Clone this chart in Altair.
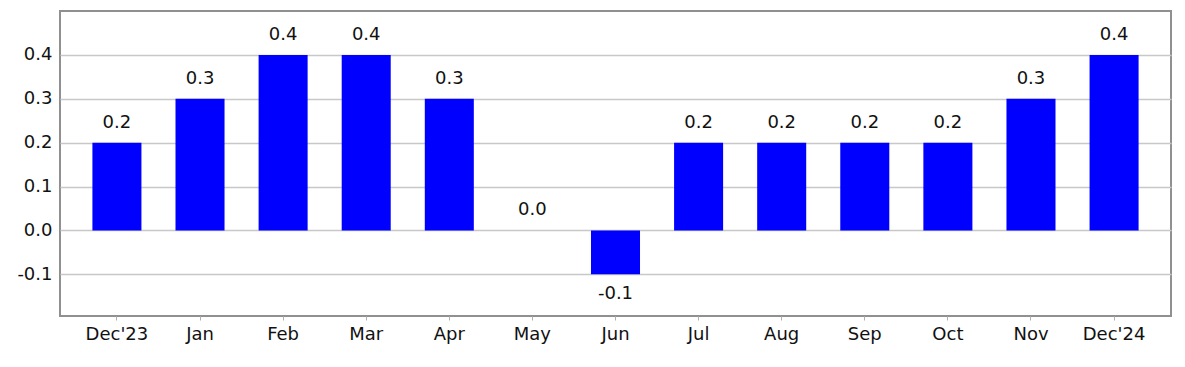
import altair as alt
import pandas as pd

months = ["Dec'23", "Jan", "Feb", "Mar", "Apr", "May", "Jun", "Jul", "Aug", "Sep", "Oct", "Nov", "Dec'24"]
values = [0.2, 0.3, 0.4, 0.4, 0.3, 0.0, -0.1, 0.2, 0.2, 0.2, 0.2, 0.3, 0.4]
y_ticks = [-0.1, 0.0, 0.1, 0.2, 0.3, 0.4]

df = pd.DataFrame({"month": months, "value": values})

FONT = "DejaVu Sans"
FS = 18
MINUS_FIX = "replace(format(datum.value, '.1f'), '\u2212', '-')"

x_enc = alt.X("month:N", sort=months, title=None,
              scale=alt.Scale(paddingInner=0.41, paddingOuter=0.39),
              axis=alt.Axis(labelAngle=0, domain=False, ticks=True, tickSize=4,
                            tickColor="#b0b0b0", labelPadding=5, labelFont=FONT,
                            labelFontSize=FS, labelColor="#111111", grid=False))
y_scale = alt.Scale(domain=[-0.195, 0.5], nice=False, zero=False)

base = alt.Chart(df).transform_calculate(label=MINUS_FIX)

bars = base.mark_bar(color="#0000ff").encode(
    x=x_enc,
    y=alt.Y("value:Q", scale=y_scale, title=None,
            axis=alt.Axis(values=y_ticks, labelExpr=MINUS_FIX, domain=False, ticks=False,
                          grid=True, gridColor="#c8c8c8", gridWidth=1.5,
                          labelPadding=8, labelFont=FONT, labelFontSize=FS,
                          labelColor="#111111")),
)

pos_text = base.transform_filter("datum.value >= 0").mark_text(
    baseline="bottom", dy=-11, font=FONT, fontSize=FS, color="#111111"
).encode(x=alt.X("month:N", sort=months), y=alt.Y("value:Q", scale=y_scale),
         text="label:N")

neg_text = base.transform_filter("datum.value < 0").mark_text(
    baseline="top", dy=11, font=FONT, fontSize=FS, color="#111111"
).encode(x=alt.X("month:N", sort=months), y=alt.Y("value:Q", scale=y_scale),
         text="label:N")

chart = alt.layer(bars, pos_text, neg_text).properties(
    width=1111, height=305, autosize="none",
    padding={"left": 52, "top": 3, "right": 6, "bottom": 40},
    view=alt.ViewBackground(stroke="#909090", strokeWidth=2),
).configure(background="white")

chart.save("out.html", embed_options={"renderer": "svg", "actions": False})
